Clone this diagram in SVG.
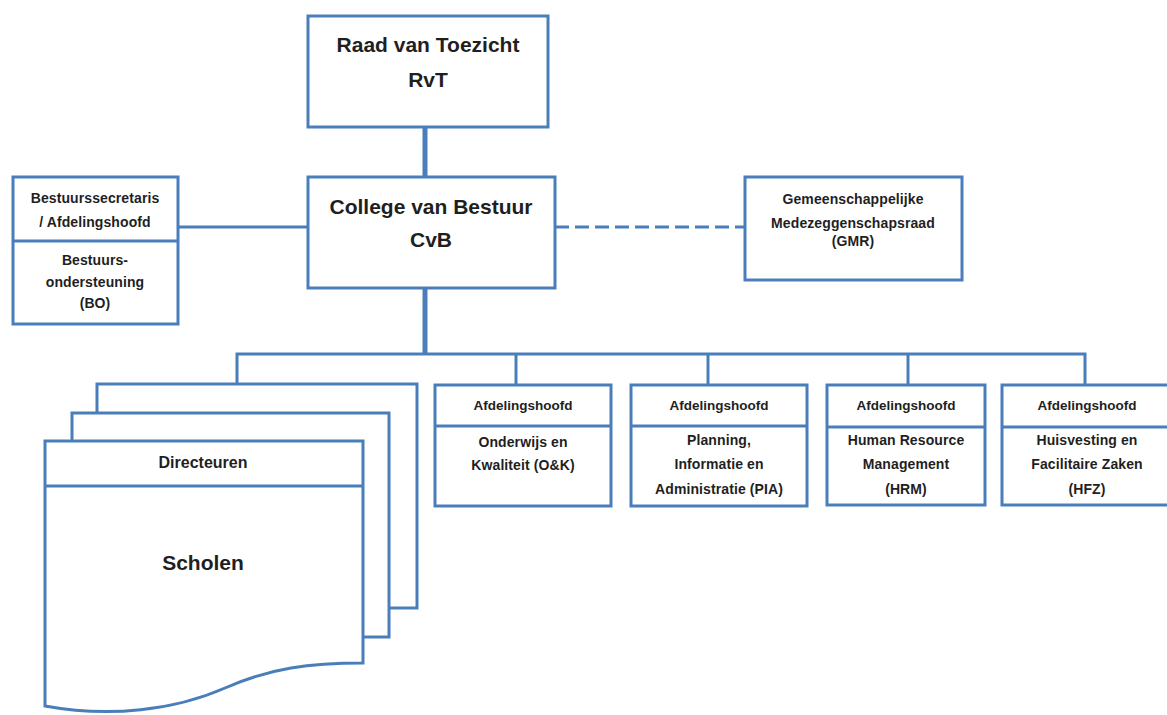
<svg xmlns="http://www.w3.org/2000/svg" width="1167" height="715" viewBox="0 0 1167 715">
<style>
  .box { fill: #ffffff; stroke: #4a7ebb; stroke-width: 3; }
  .ln { fill: none; stroke: #4a7ebb; stroke-width: 3; }
  .thick { fill: none; stroke: #4a7ebb; stroke-width: 5; }
  .dash { fill: none; stroke: #4a7ebb; stroke-width: 3; stroke-dasharray: 14 6; }
  text { font-family: "Liberation Sans", Arial, sans-serif; font-weight: bold; fill: #1f1f1f; text-anchor: middle; }
  .big { font-size: 21px; }
  .sm { font-size: 14px; letter-spacing: 0.1px; }
  .hd { font-size: 13.5px; }
</style>
<rect width="1167" height="715" fill="#ffffff"/>

<g id="connectors">
  <line class="thick" x1="425" y1="127" x2="425" y2="177"/>
  <line class="thick" x1="425" y1="288" x2="425" y2="354"/>
  <line class="ln" x1="178" y1="227" x2="308" y2="227"/>
  <line class="dash" x1="555" y1="227" x2="745" y2="227"/>
  <polyline class="ln" points="237,384 237,354 1085,354 1085,385"/>
  <line class="ln" x1="516" y1="354" x2="516" y2="385"/>
  <line class="ln" x1="708" y1="354" x2="708" y2="385"/>
  <line class="ln" x1="908" y1="354" x2="908" y2="385"/>
</g>

<g id="rvt">
  <rect class="box" x="308" y="16" width="240" height="111"/>
  <text class="big" x="428" y="52">Raad van Toezicht</text>
  <text class="big" x="428" y="87">RvT</text>
</g>

<g id="cvb">
  <rect class="box" x="308" y="177" width="247" height="111"/>
  <text class="big" x="431" y="214">College van Bestuur</text>
  <text class="big" x="431" y="247">CvB</text>
</g>

<g id="bo">
  <rect class="box" x="13" y="177" width="165" height="147"/>
  <line class="ln" x1="13" y1="241" x2="178" y2="241"/>
  <text class="sm" x="95" y="203">Bestuurssecretaris</text>
  <text class="sm" x="95" y="227">/ Afdelingshoofd</text>
  <text class="sm" x="95" y="265">Bestuurs-</text>
  <text class="sm" x="95" y="287">ondersteuning</text>
  <text class="sm" x="95" y="308">(BO)</text>
</g>

<g id="gmr">
  <rect class="box" x="745" y="177" width="217" height="103"/>
  <text class="sm" x="853" y="204">Gemeenschappelijke</text>
  <text class="sm" x="853" y="228">Medezeggenschapsraad</text>
  <text class="sm" x="853" y="246">(GMR)</text>
</g>

<g id="scholen">
  <rect class="box" x="97" y="384" width="320" height="224"/>
  <rect class="box" x="72" y="413" width="317" height="224"/>
  <path class="box" d="M45,441 H363 V663 C 310,663 270,668 225,688 C 175,710 110,718 45,706 Z"/>
  <line class="ln" x1="45" y1="486" x2="363" y2="486"/>
  <text x="203" y="468" style="font-size:16px">Directeuren</text>
  <text class="big" x="203" y="570">Scholen</text>
</g>

<g id="ok">
  <rect class="box" x="435" y="385" width="176" height="121"/>
  <line class="ln" x1="435" y1="426" x2="611" y2="426"/>
  <text class="hd" x="523" y="410">Afdelingshoofd</text>
  <text class="sm" x="523" y="447">Onderwijs en</text>
  <text class="sm" x="523" y="470">Kwaliteit (O&amp;K)</text>
</g>

<g id="pia">
  <rect class="box" x="631" y="385" width="176" height="121"/>
  <line class="ln" x1="631" y1="426" x2="807" y2="426"/>
  <text class="hd" x="719" y="410">Afdelingshoofd</text>
  <text class="sm" x="719" y="445">Planning,</text>
  <text class="sm" x="719" y="469">Informatie en</text>
  <text class="sm" x="719" y="494">Administratie (PIA)</text>
</g>

<g id="hrm">
  <rect class="box" x="827" y="385" width="158" height="120"/>
  <line class="ln" x1="827" y1="427" x2="985" y2="427"/>
  <text class="hd" x="906" y="410">Afdelingshoofd</text>
  <text class="sm" x="906" y="445">Human Resource</text>
  <text class="sm" x="906" y="469">Management</text>
  <text class="sm" x="906" y="494">(HRM)</text>
</g>

<g id="hfz">
  <rect class="box" x="1002" y="385" width="180" height="120"/>
  <line class="ln" x1="1002" y1="427" x2="1182" y2="427"/>
  <text class="hd" x="1087" y="410">Afdelingshoofd</text>
  <text class="sm" x="1087" y="445">Huisvesting en</text>
  <text class="sm" x="1087" y="469">Facilitaire Zaken</text>
  <text class="sm" x="1087" y="494">(HFZ)</text>
</g>
</svg>
